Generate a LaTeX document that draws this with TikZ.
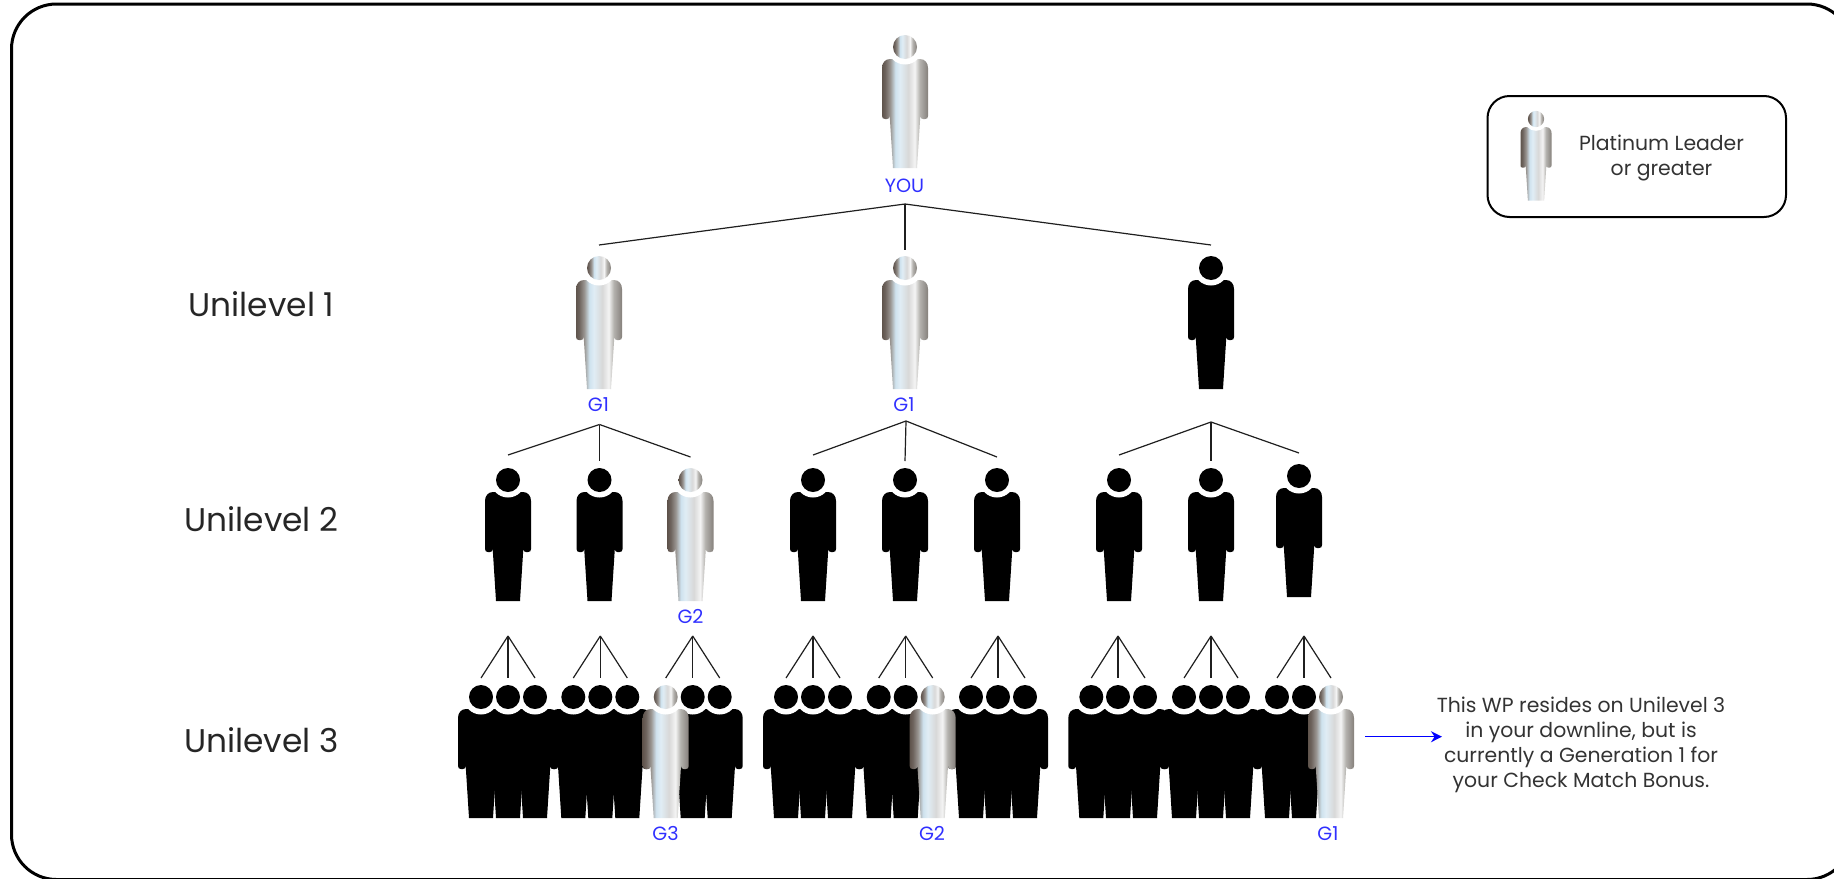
\documentclass[tikz,border=0pt]{standalone}
\usepackage{fontspec}
\setmainfont{Poppins}
\usetikzlibrary{calc,arrows.meta}
\definecolor{mA}{HTML}{5F544C}
\definecolor{mB}{HTML}{6E645E}
\definecolor{mC}{HTML}{9A9692}
\definecolor{mD}{HTML}{CFE2EE}
\definecolor{mE}{HTML}{E0EDF5}
\definecolor{mF}{HTML}{D8D8D8}
\definecolor{mG}{HTML}{F4F4F4}
\definecolor{mH}{HTML}{B4B2AE}
\definecolor{mI}{HTML}{85807B}
\definecolor{labelblue}{HTML}{3030FF}
\definecolor{arrowblue}{HTML}{0000FF}
\definecolor{inkgrey}{HTML}{333333}
\pgfdeclarehorizontalshading{metal}{100bp}{color(0bp)=(mA);color(25bp)=(mA);color(28.5bp)=(mB);color(34bp)=(mC);color(39.5bp)=(mD);color(44.5bp)=(mE);color(53.5bp)=(mF);color(60.5bp)=(mG);color(66bp)=(mH);color(75bp)=(mI);color(100bp)=(mI)}
\newcommand{\bodypath}{(-12,121) -- (-15.3,69) .. controls (-15.3,71) and (-16.5,72) .. (-18,72) -- (-20,72) .. controls (-22,72) and (-23,71) .. (-23,69) -- (-23,21) .. controls (-23,16) and (-20,12) .. (-15,12) -- (15,12) .. controls (20,12) and (23,16) .. (23,21) -- (23,69) .. controls (23,71) and (22,72) .. (20,72) -- (18,72) .. controls (16.5,72) and (15.3,71) .. (15.3,69) -- (12,121) -- cycle}
\tikzset{
  x=0.5pt,y=-0.5pt,
  pics/blackbody/.style={code={\fill[black] \bodypath;}},
  pics/silverbody/.style={code={\shade[shading=metal] \bodypath;}},
  pics/notch/.style={code={\fill[white] (0,0) circle (17.5);}},
  pics/blackhead/.style={code={\fill[black] (0,0) circle (12);}},
  pics/silverhead/.style={code={\shade[shading=metal] (0,0) circle (12);}},
  conn/.style={draw=black!88,line width=0.6pt},
  lvl/.style={font=\fontsize{16.4}{20}\selectfont,text=black!85,anchor=base,inner sep=0pt},
  gen/.style={font=\fontsize{9.6}{12}\selectfont,text=labelblue,anchor=base,inner sep=0pt},
  note/.style={font=\fontsize{10.2}{12.5}\selectfont,text=inkgrey,align=center,inner sep=0pt},
}
\begin{document}
\begin{tikzpicture}
\useasboundingbox (0,0) rectangle (1834,878);
\clip (0,0) rectangle (1834,878);
\draw[black,line width=1.5pt,rounded corners=22.5pt] (11.5,4) rectangle (1852,879.5);

% person positions: head centres
\foreach \n/\x/\y in {
 you/905/47, sa/599/268, sb/905/268, bc/1211/268,
 ba/508/480, bb/599.5/480, sc/690.5/480,
 bd/813/480, be/905/480, bf/997/480,
 bg/1119/480, bh/1211/480, bi/1299/476,
 l1/481/697, l2/508/697, l3/535/697, l4/573.3/697, l5/600.3/697, l6/627.3/697,
 l7/665.7/697, l8/692.7/697, l9/719.7/697,
 m1/786/697, m2/813/697, m3/840/697, m4/878.7/697, m5/905.7/697, m6/932.7/697,
 m7/971/697, m8/998/697, m9/1025/697,
 n1/1091.3/697, n2/1118/697, n3/1145/697, n4/1184/697, n5/1211/697, n6/1238/697,
 n7/1277/697, n8/1304/697, n9/1331/697,
 legend/1536/119}
 {\coordinate (\n) at (\x,\y);}

% fan apexes
\foreach \n/\x/\y in {
 a0/905/204, a1/599.5/424.5, a2/906/421, a3/1211/422,
 fa/508/636, fb/600.3/636, fc/692.7/636,
 fd/813/636, fe/905.7/636, ff/998/636,
 fg/1118/636, fh/1211/636, fi/1304/636}
 {\coordinate (\n) at (\x,\y);}

% connectors
\draw[conn] (a0) -- ($(sa)+(0,-23)$);
\draw[conn] (a0) -- ($(sb)+(0,-18)$);
\draw[conn] (a0) -- ($(bc)+(0,-23)$);
\foreach \ap/\pa/\pb/\pc in {a1/ba/bb/sc, a2/bd/be/bf, a3/bg/bh/bi}{
  \draw[conn] (\ap) -- ($(\pa)+(0,-25)$);
  \draw[conn] (\ap) -- ($(\pb)+(0,-19)$);
  \draw[conn] (\ap) -- ($(\pc)+(0,-23)$);
}
\foreach \ap/\pa/\pb/\pc in {fa/l1/l2/l3, fb/l4/l5/l6, fc/l7/l8/l9, fd/m1/m2/m3, fe/m4/m5/m6, ff/m7/m8/m9, fg/n1/n2/n3, fh/n4/n5/n6, fi/n7/n8/n9}{
  \draw[conn] (\ap) -- ($(\pa)+(0,-19)$);
  \draw[conn] (\ap) -- ($(\pb)+(0,-19)$);
  \draw[conn] (\ap) -- ($(\pc)+(0,-19)$);
}

% people: bodies, neck gaps, then heads
\foreach \n in {bc,ba,bb,bd,be,bf,bg,bh,bi,l1,l2,l3,l4,l5,l6,l8,l9,m1,m2,m3,m4,m5,m7,m8,m9,n1,n2,n3,n4,n5,n6,n7,n8}
  {\path pic at (\n) {blackbody};}
\foreach \n in {bc,ba,bb,bd,be,bf,bg,bh,bi,l1,l2,l3,l4,l5,l6,l8,l9,m1,m2,m3,m4,m5,m7,m8,m9,n1,n2,n3,n4,n5,n6,n7,n8}
  {\path pic at (\n) {notch};}
\foreach \n in {you,sa,sb,sc,l7,m6,n9}
  {\path pic at (\n) {silverbody}; \path pic at (\n) {notch};}
\foreach \n in {bc,ba,bb,bd,be,bf,bg,bh,bi,l1,l2,l3,l4,l5,l6,l8,l9,m1,m2,m3,m4,m5,m7,m8,m9,n1,n2,n3,n4,n5,n6,n7,n8}
  {\path pic at (\n) {blackhead};}
\foreach \n in {you,sa,sb,sc,l7,m6,n9}
  {\path pic at (\n) {silverhead};}

% generation labels
\node[gen] (tyou) at (904.5,192.5) {YOU};
\node[gen] (tg1a) at (598.5,411) {G1};
\node[gen] (tg1b) at (904,411) {G1};
\node[gen] (tg2a) at (690.5,623.5) {G2};
\node[gen] (tg3) at (665.5,840) {G3};
\node[gen] (tg2b) at (932,840) {G2};
\node[gen] (tg1c) at (1328,840) {G1};

% level labels
\node[lvl] (u1) at (261.5,316.5) {Unilevel 1};
\node[lvl] (u2) at (261.5,531.5) {Unilevel 2};
\node[lvl] (u3) at (261.5,752.5) {Unilevel 3};

% legend
\draw[black,line width=1pt,rounded corners=11pt] (1487.5,96) rectangle (1786,217);
\begin{scope}
\path pic[scale=0.675] at (legend) {silverbody};
\path pic[scale=0.675] at (legend) {notch};
\path pic[scale=0.675] at (legend) {silverhead};
\end{scope}
\node[note] (legtext) at (1661.5,157.5) {Platinum Leader\\or greater};

% note and arrow
\node[note] (wptext) at (1581,745) {This WP resides on Unilevel 3\\in your downline, but is\\currently a Generation 1 for\\your Check Match Bonus.};
\coordinate (arrstart) at (1365,736.7);
\coordinate (arrend) at (1442,736.7);
\draw[arrowblue,line width=0.75pt,-{Stealth[length=5.5pt,width=5.5pt]}] (arrstart) -- (arrend);
\end{tikzpicture}
\end{document}
